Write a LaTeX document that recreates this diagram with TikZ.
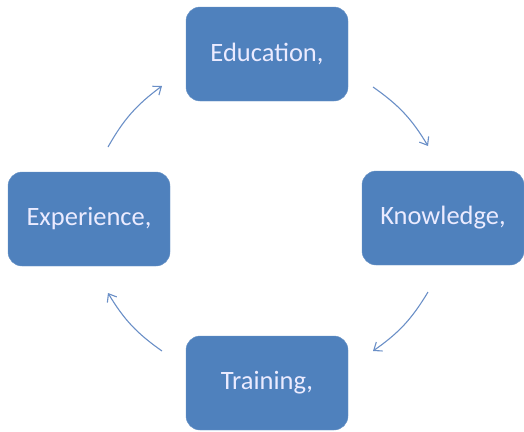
\documentclass[tikz,border=0pt]{standalone}
\usepackage{fontspec}
\setmainfont{Carlito}
\usetikzlibrary{arrows.meta}
\definecolor{boxblue}{HTML}{4F81BD}
\definecolor{arrblue}{HTML}{6A8FC7}
\begin{document}
\begin{tikzpicture}[x=1pt,y=-1pt,
  box/.style={fill=boxblue,draw=boxblue!85!white,rounded corners=14pt,minimum width=162pt,minimum height=94pt,text=white!92!blue,font=\fontsize{26.5}{30}\selectfont,inner sep=0pt},
  cyc/.style={draw=arrblue,line width=1.1pt,-{Straight Barb[length=7pt,width=11pt,line width=1.1pt]}}]
\useasboundingbox (0,0) rectangle (524,431);
\node[box] (edu) at (267,54) {Education,};
\node[box] (kno) at (443,218) {Knowledge,};
\node[box] (tra) at (267,383) {Training,};
\node[box] (exp) at (89,219) {Experience,};
\coordinate (a1s) at (373,87);
\coordinate (a1e) at (428,146);
\coordinate (a2s) at (428,292);
\coordinate (a2e) at (373,351);
\coordinate (a3s) at (162,351);
\coordinate (a3e) at (108,293);
\coordinate (a4s) at (108,147);
\coordinate (a4e) at (162,86);
\draw[cyc] (a1s) to[bend left=12] (a1e);
\draw[cyc] (a2s) to[bend left=12] (a2e);
\draw[cyc] (a3s) to[bend left=12] (a3e);
\draw[cyc] (a4s) to[bend left=12] (a4e);
\end{tikzpicture}
\end{document}
